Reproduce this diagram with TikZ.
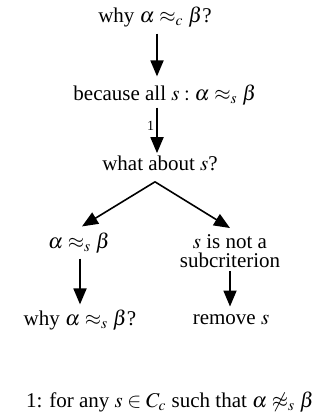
\documentclass[tikz,border=0pt]{standalone}
\usepackage{mathptmx}
\usepackage{fontspec}
\setmainfont{Liberation Serif}
\usetikzlibrary{arrows.meta}
\begin{document}
\begin{tikzpicture}[x=0.5pt,y=-0.5pt,
  lbl/.style={inner sep=1pt,font=\fontsize{10.5}{11}\selectfont},
  arr/.style={-{Triangle[length=8pt,width=6.5pt]},line width=0.9pt},
  brl/.style={-{Triangle[length=8pt,width=6.5pt]},line width=0.8pt}]
\useasboundingbox (0,0) rectangle (333,416);
\node[lbl] (n1) at (155,17) {why $\alpha \approx_c \beta$?};
\node[lbl] (n2) at (165,95) {because all $s:\alpha \approx_s \beta$};
\node[lbl] (n3) at (160,163) {what about $s$?};
\node[lbl] (n4) at (79,243) {$\alpha \approx_s \beta$};
\node[lbl,align=center,font=\fontsize{10.5}{9.5}\selectfont] (n5) at (230,251) {$s$ is not a\\subcriterion};
\node[lbl] (n6) at (80,320) {why $\alpha \approx_s \beta$?};
\node[lbl] (n7) at (231,320) {remove $s$};
\node[lbl] (fn) at (170,402) {1: for any $s\in C_c$ such that $\alpha \not\approx_s \beta$};
\coordinate (apex) at ([xshift=-2.5pt,yshift=-4.5pt]n3.south);
\draw[arr] ([xshift=1pt,yshift=-2pt]n1.south) -- ([xshift=-4pt,yshift=3pt]n2.north);
\draw[arr] ([xshift=-4pt]n2.south) -- ([xshift=-1.5pt]n3.north)
  node[midway,left,inner sep=1pt,font=\fontsize{7}{7}\selectfont,yshift=2pt] {1};
\draw[brl] (apex) -- ([xshift=1.5pt,yshift=2pt]n4.north);
\draw[brl] (apex) -- ([yshift=2pt]n5.north);
\draw[arr] ([xshift=0.5pt,yshift=-1.5pt]n4.south) -- ([yshift=1.5pt]n6.north);
\draw[arr] ([yshift=-0.5pt]n5.south) -- ([xshift=-0.5pt,yshift=3pt]n7.north);
\end{tikzpicture}
\end{document}
